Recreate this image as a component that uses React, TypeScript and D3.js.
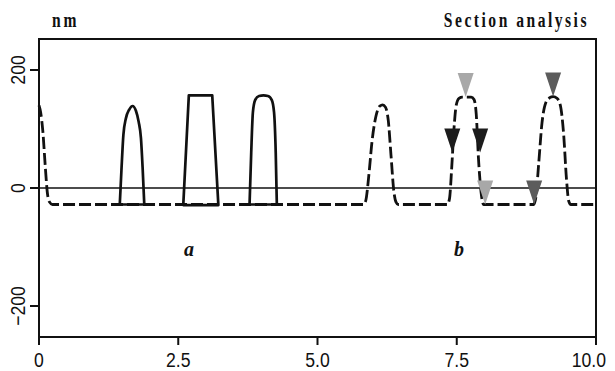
import React from 'react';
import * as d3 from 'd3';

// ---- data ----
const xTicks = [0, 2.5, 5, 7.5, 10];
const xTickLabels = ['0', '2.5', '5.0', '7.5', '10.0'];
const yTicks = [-200, 0, 200];
const yTickLabels = ['\u2212200', '0', '200'];

// dashed profile (b): [position, height nm]
const dashedProfile: [number, number][] = [
  [0, 140], [0.03, 128], [0.07, 95], [0.11, 40], [0.15, -8], [0.19, -24], [0.24, -28],
  [5.83, -28], [5.87, -20], [5.92, 20], [5.98, 80], [6.05, 122], [6.12, 139], [6.17, 141],
  [6.22, 137], [6.27, 115], [6.32, 55], [6.37, -5], [6.41, -24], [6.45, -28],
  [7.33, -28], [7.37, -18], [7.41, 35], [7.45, 100], [7.49, 140], [7.54, 152], [7.6, 154],
  [7.76, 154], [7.81, 150], [7.85, 125], [7.89, 50], [7.94, -10], [7.98, -28],
  [8.88, -28], [8.92, -16], [8.97, 40], [9.03, 110], [9.1, 145], [9.17, 153], [9.23, 155],
  [9.3, 152], [9.36, 140], [9.42, 90], [9.47, 15], [9.51, -22], [9.55, -28],
  [10, -28],
];

// solid profiles (a)
const peakA1: [number, number][] = [
  [1.45, -28], [1.48, 30], [1.515, 90], [1.56, 118], [1.62, 133], [1.68, 139],
  [1.74, 131], [1.79, 112], [1.83, 85], [1.86, 35], [1.89, -28],
];
const peakA2: [number, number][] = [
  [2.59, -29], [2.69, 157], [3.11, 157], [3.22, -29],
];
const peakA3: [number, number][] = [
  [3.78, -28], [3.81, 60], [3.84, 128], [3.88, 149], [3.95, 156], [4.03, 157],
  [4.11, 156], [4.18, 149], [4.22, 128], [4.25, 60], [4.27, -28],
];

// cursor markers (tip position)
const markerX = [7.66, 7.42, 7.92, 8.01, 8.89, 9.23];
const markerNm = [154, 60, 60, -28, -28, 155];
const markerShade = ['light', 'black', 'black', 'light', 'dark', 'dark'];

const shadeColor: Record<string, string> = {
  light: '#a8a8a8',
  dark: '#5c5c5c',
  black: '#1c1c1c',
};

export default function App() {
  const W = 615, H = 371;
  const left = 39, right = 596, top = 39, bottom = 337;
  const x = d3.scaleLinear().domain([0, 10]).range([left, right]);
  const y = d3.scaleLinear().domain([-252.5, 252.5]).range([bottom, top]);

  const smooth = d3.line<[number, number]>().x(d => x(d[0])).y(d => y(d[1])).curve(d3.curveMonotoneX);
  const straight = d3.line<[number, number]>().x(d => x(d[0])).y(d => y(d[1]));

  const sans = '"Liberation Sans", Arial, sans-serif';
  const serif = '"Liberation Serif", "Times New Roman", serif';

  return (
    <svg width={W} height={H} style={{ position: 'absolute', left: 0, top: 0 }}>
      <rect x={0} y={0} width={W} height={H} fill="#fff" />
      {/* zero line */}
      <line x1={left} x2={right} y1={y(0)} y2={y(0)} stroke="#111" strokeWidth={1.6} />
      {/* dashed profile */}
      <path d={smooth(dashedProfile) || ''} fill="none" stroke="#111" strokeWidth={2.8} strokeDasharray="12,4" />
      {/* solid profiles */}
      <path d={(smooth(peakA1) || '') + 'Z'} fill="none" stroke="#111" strokeWidth={2.7} strokeLinejoin="round" />
      <path d={(straight(peakA2) || '') + 'Z'} fill="none" stroke="#111" strokeWidth={2.7} strokeLinejoin="round" />
      <path d={(smooth(peakA3) || '') + 'Z'} fill="none" stroke="#111" strokeWidth={2.7} strokeLinejoin="round" />
      {/* markers */}
      {markerX.map((mx, i) => {
        const px = x(mx), py = y(markerNm[i]);
        return (
          <path key={i} d={`M${px - 8},${py - 24}L${px + 8},${py - 24}L${px},${py}Z`} fill={shadeColor[markerShade[i]]} />
        );
      })}
      {/* frame */}
      <rect x={left} y={top} width={right - left} height={bottom - top} fill="none" stroke="#111" strokeWidth={2} />
      {/* x ticks */}
      {xTicks.map((t, i) => (
        <g key={'x' + i}>
          <line x1={x(t)} x2={x(t)} y1={bottom} y2={bottom + 8} stroke="#111" strokeWidth={2} />
          <text
            transform={`translate(${i === xTicks.length - 1 ? x(t) + 10 : x(t)},367) scale(0.84,1)`}
            textAnchor={i === xTicks.length - 1 ? 'end' : 'middle'}
            fontFamily={sans} fontSize={21} fill="#111">{xTickLabels[i]}</text>
        </g>
      ))}
      {/* y ticks */}
      {yTicks.map((t, i) => (
        <g key={'y' + i}>
          <line x1={left - 9} x2={left} y1={y(t)} y2={y(t)} stroke="#111" strokeWidth={2} />
          <text
            transform={`translate(25,${y(t)}) rotate(-90) scale(0.84,1)`}
            textAnchor="middle" fontFamily={sans} fontSize={21} fill="#111">{yTickLabels[i]}</text>
        </g>
      ))}
      {/* titles */}
      <text transform="translate(52,27) scale(0.78,1)" fontFamily={serif} fontWeight="bold" fontSize={20} letterSpacing={3.5} fill="#111">nm</text>
      <text transform="translate(589,27) scale(0.78,1)" textAnchor="end" fontFamily={serif} fontWeight="bold" fontSize={20} letterSpacing={3.2} fill="#111">Section analysis</text>
      {/* labels */}
      <text x={189} y={256} textAnchor="middle" fontFamily={serif} fontWeight="bold" fontStyle="italic" fontSize={20} fill="#111">a</text>
      <text x={459} y={256} textAnchor="middle" fontFamily={serif} fontWeight="bold" fontStyle="italic" fontSize={20} fill="#111">b</text>
    </svg>
  );
}
